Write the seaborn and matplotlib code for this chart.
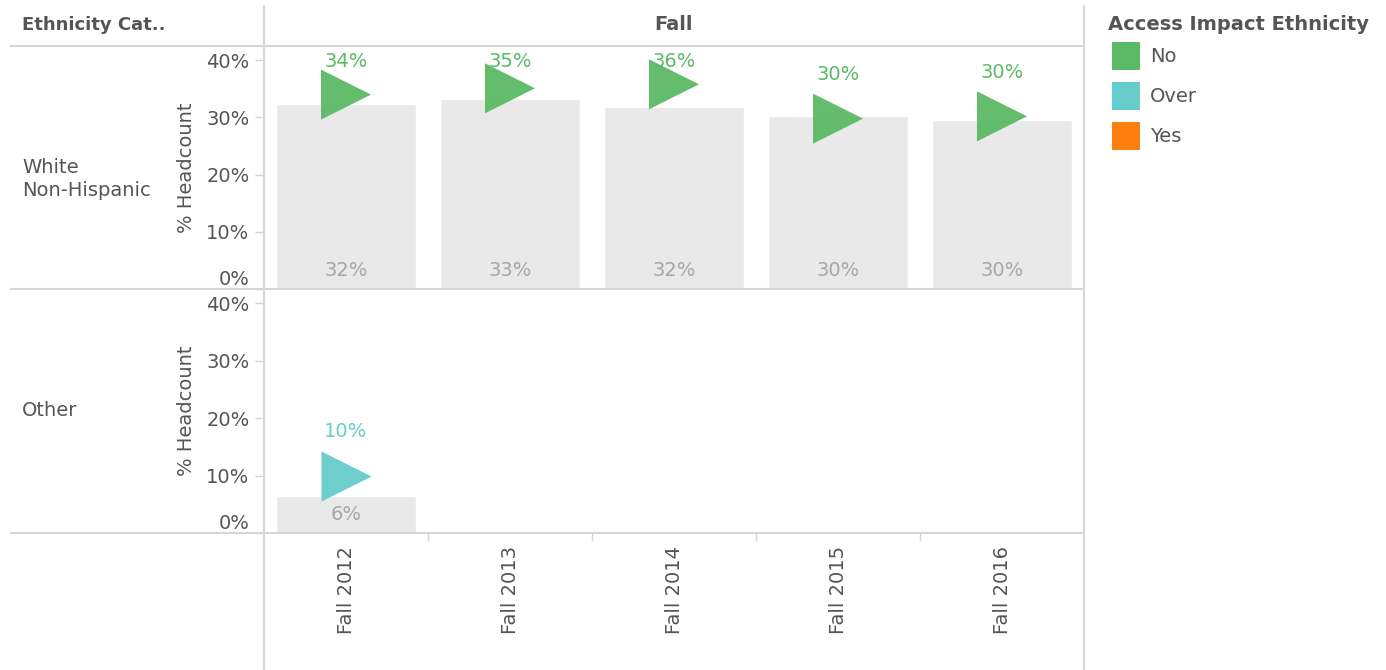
import numpy as np
import pandas as pd
import matplotlib
matplotlib.use('Agg')
import matplotlib.pyplot as plt
from matplotlib.patches import Rectangle
from matplotlib.ticker import FixedLocator, PercentFormatter
import seaborn as sns

# dados (% headcount)
anos = ['Fall 2012', 'Fall 2013', 'Fall 2014', 'Fall 2015', 'Fall 2016']
linhas = ['White\nNon-Hispanic', 'Other']

white_anos = ['Fall 2012', 'Fall 2013', 'Fall 2014', 'Fall 2015', 'Fall 2016']
white_headcount = [32.3, 33.3, 31.9, 30.2, 29.5]
white_marcador = [34.0, 35.1, 35.8, 29.8, 30.2]
white_impacto = ['No', 'No', 'No', 'No', 'No']

other_anos = ['Fall 2012']
other_headcount = [6.4]
other_marcador = [10.0]
other_impacto = ['Over']

legenda = ['No', 'Over', 'Yes']
cores = {'No': '#5cb965', 'Over': '#66cccc', 'Yes': '#ff7f0e'}

sns.set_theme(style='white')
plt.rcParams['font.family'] = ['DejaVu Sans']
texto = '#555555'
linha = '#d6d6d6'
fs = 14

W, H = 1386, 670
fig = plt.figure(figsize=(W / 100, H / 100), dpi=100)
fig.patch.set_facecolor('white')

ax_top = fig.add_axes([264 / W, (H - 289) / H, 820 / W, 243 / H])
ax_bot = fig.add_axes([264 / W, (H - 533) / H, 820 / W, 244 / H])


def painel(ax, anos_linha, headcount, marcador, impacto):
    df = pd.DataFrame({'ano': anos_linha, 'headcount': headcount,
                       'marcador': marcador, 'impacto': impacto})
    sns.barplot(data=df, x='ano', y='headcount', order=anos, color='#e9e9e9',
                saturation=1, width=0.85, ax=ax, zorder=1)
    pos = [anos.index(a) for a in df['ano']]
    sns.scatterplot(x=pos, y=df['marcador'], hue=df['impacto'], palette=cores,
                    marker='>', s=1300, linewidth=0, alpha=0.95, legend=False,
                    ax=ax, zorder=3)
    for p, h, m, imp in zip(pos, df['headcount'], df['marcador'], df['impacto']):
        ax.text(p, 3.3, f'{round(h)}%', ha='center', va='center',
                color='#a6a6a6', fontsize=fs, zorder=4)
        ax.text(p, min(m + 7.7, 39.8), f'{round(m)}%', ha='center', va='center',
                color=cores[imp], fontsize=fs, zorder=4)

    ax.set_facecolor('none')
    ax.set_xlim(-0.5, 4.5)
    ax.set_ylim(0, 42.5)
    ax.yaxis.set_major_locator(FixedLocator([0, 10, 20, 30, 40]))
    ax.yaxis.set_major_formatter(PercentFormatter(xmax=100, decimals=0))
    ax.tick_params(axis='y', left=True, length=6.5, width=1, color=linha,
                   labelsize=fs, labelcolor=texto, pad=4)
    # o 0% fica um pouco acima da base, como no original
    ax.yaxis.get_majorticklabels()[0].set_va('bottom')
    ax.set_ylabel('% Headcount', fontsize=fs, color=texto)
    ax.yaxis.set_label_coords(-0.083, 0.5)
    ax.set_xlabel('')
    for s in ax.spines.values():
        s.set_visible(False)


painel(ax_top, white_anos, white_headcount, white_marcador, white_impacto)
painel(ax_bot, other_anos, other_headcount, other_marcador, other_impacto)

ax_top.set_xticks([])
ax_bot.set_xticks(range(len(anos)))
ax_bot.set_xticklabels(anos, rotation=90, va='top', ha='center')
ax_bot.xaxis.set_minor_locator(FixedLocator([0.5, 1.5, 2.5, 3.5]))
ax_bot.tick_params(axis='x', which='major', bottom=False, length=0, pad=9,
                   labelsize=fs, labelcolor=texto)
ax_bot.tick_params(axis='x', which='minor', bottom=True, length=5.5, width=1,
                   color=linha)

# camada por cima para cabecalhos, linhas e legenda (em pixels)
bg = fig.add_axes([0, 0, 1, 1], zorder=10)
bg.set_xlim(0, W)
bg.set_ylim(H, 0)
bg.axis('off')

bg.hlines([46, 289, 533], 10, 1084, color=linha, lw=1.5)
bg.vlines([264, 1084], 5, H, color=linha, lw=1.5)

bg.text(22, 25, 'Ethnicity Cat..', fontsize=13, fontweight='bold', color=texto,
        ha='left', va='center')
bg.text(674, 25, 'Fall', fontsize=fs, fontweight='bold', color=texto,
        ha='center', va='center')
bg.text(22, 179, linhas[0], fontsize=fs, color=texto, ha='left', va='center',
        linespacing=1.3)
bg.text(22, 410, linhas[1], fontsize=fs, color=texto, ha='left', va='center')

bg.text(1108, 25, 'Access Impact Ethnicity', fontsize=fs, fontweight='bold',
        color=texto, ha='left', va='center')
for i, nome in enumerate(legenda):
    yc = 56 + 40 * i
    bg.add_patch(Rectangle((1112, yc - 14), 28, 28, color=cores[nome], lw=0))
    bg.text(1150, yc, nome, fontsize=fs, color=texto, ha='left', va='center')

plt.savefig('out.png', dpi=100)
